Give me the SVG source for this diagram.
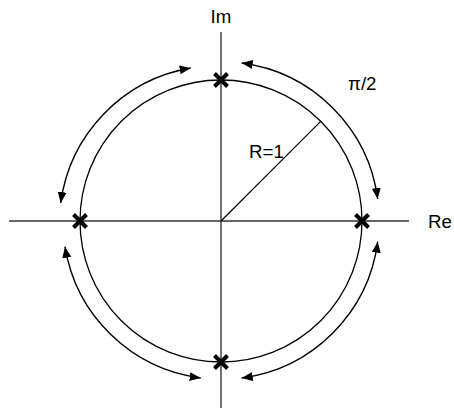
<svg xmlns="http://www.w3.org/2000/svg" width="454" height="408" viewBox="0 0 454 408">
<style>
text{font-family:"Liberation Sans",Arial,sans-serif;font-size:18.7px;fill:#000}
.arc{fill:none;stroke:#000;stroke-width:1.4;marker-start:url(#ah);marker-end:url(#ah)}
.x{stroke:#000;stroke-width:4;fill:none}
</style>
<defs>
<marker id="ah" markerUnits="userSpaceOnUse" markerWidth="12" markerHeight="10" viewBox="0 0 12 10" refX="11" refY="5" orient="auto-start-reverse">
<path d="M0,0.5 L11,5 L0,9.5 Z" fill="#000"/>
</marker>
</defs>
<g id="axes">
<line x1="9" y1="221" x2="409" y2="221" stroke="#666" stroke-width="2"/>
<line x1="221" y1="32" x2="221" y2="408" stroke="#333" stroke-width="1.4"/>
</g>
<g id="circle">
<circle cx="221" cy="221" r="141" fill="none" stroke="#000" stroke-width="1.3"/>
<line x1="221" y1="221" x2="320.7" y2="121.3" stroke="#000" stroke-width="1.2"/>
</g>
<g id="poles">
<path class="x" d="M214.5,73.5 L227.5,86.5 M227.5,73.5 L214.5,86.5"/>
<path class="x" d="M73.5,214.5 L86.5,227.5 M86.5,214.5 L73.5,227.5"/>
<path class="x" d="M355.5,214.5 L368.5,227.5 M368.5,214.5 L355.5,227.5"/>
<path class="x" d="M214.5,355.5 L227.5,368.5 M227.5,355.5 L214.5,368.5"/>
</g>
<g id="connectors">
<path class="arc" d="M241.7,63 A158,158 0 0 1 377.7,199"/>
<path class="arc" d="M190.7,68 A158,158 0 0 0 60.7,203"/>
<path class="arc" d="M65,246.7 A158,158 0 0 0 200.7,378"/>
<path class="arc" d="M241.7,378 A158,158 0 0 0 377.7,241.7"/>
</g>
<g id="labels">
<text x="221" y="23" text-anchor="middle">Im</text>
<text x="428" y="228">Re</text>
<text x="249" y="158">R=1</text>
<text x="348" y="90">π/2</text>
</g>
</svg>
